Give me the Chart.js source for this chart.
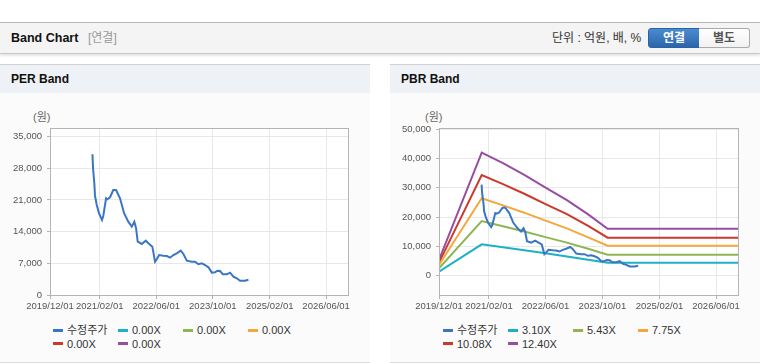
<!DOCTYPE html>
<html>
<head>
<meta charset="utf-8">
<script src="https://cdn.jsdelivr.net/npm/chart.js@4.4.0/dist/chart.umd.min.js"></script>
<style>
  body { margin:0; width:760px; height:364px; position:relative; background:#fff; overflow:hidden;
         font-family:"Liberation Sans","Noto Sans CJK KR",sans-serif; color:#333; }
  #topbar { position:absolute; left:0; top:22px; width:760px; height:30px; background:#f4f4f4;
            border-top:1px solid #b8b8b8; border-bottom:1px solid #c8c8c8; box-shadow:0 2px 2px rgba(0,0,0,0.10); }
  #topbar .title { position:absolute; left:11px; top:0; line-height:30px; font-size:12.5px; font-weight:bold; color:#111; }
  #topbar .sub { position:absolute; left:88px; top:0; line-height:30px; font-size:12px; color:#999; }
  #topbar .unit { position:absolute; left:552px; top:0; line-height:30px; font-size:12px; color:#333; }
  .btn { position:absolute; top:5px; height:18px; width:50px; line-height:18px; text-align:center;
         font-size:12px; font-weight:bold; }
  #b1 { left:648px; background:linear-gradient(#4b8bd0,#2b66ab); color:#fff; border:1px solid #2d62a2; border-radius:3px 0 0 3px; }
  #b2 { left:699px; width:50px; background:linear-gradient(#fff,#f1f1f1); color:#555; border:1px solid #aaa; border-left:none; border-radius:0 3px 3px 0; }
  .panel { position:absolute; top:64px; width:370px; height:298px; background:#fbfbfb; border-bottom:1px solid #dcdcdc; }
  .ph { position:absolute; left:0; top:0; width:370px; height:28px; line-height:29px; background:#eef1f6;
        border-top:1px solid #d2d2d2; font-size:12px; font-weight:bold; color:#111; text-indent:11px; }
  .won { position:absolute; top:47px; font-size:11px; color:#666; line-height:13px; }
  .panel canvas { position:absolute; left:0; top:29px; }
  .lg { position:absolute; font-size:11px; line-height:13px; color:#333; white-space:nowrap; }
  .lg span { display:inline-block; width:10px; height:3px; margin-right:4px; vertical-align:middle; position:relative; top:-1px; }
</style>
</head>
<body>
<div id="topbar">
  <div class="title">Band Chart</div>
  <div class="sub">[연결]</div>
  <div class="unit">단위 : 억원, 배, %</div>
  <div class="btn" id="b1">연결</div>
  <div class="btn" id="b2">별도</div>
</div>

<div class="panel" style="left:0">
  <div class="ph">PER Band</div>
  <div class="won" style="left:33px">(원)</div>
  <canvas id="perChart" width="370" height="227"></canvas>
  <div id="perLegend"></div>
</div>

<div class="panel" style="left:390px">
  <div class="ph">PBR Band</div>
  <div class="won" style="left:35px">(원)</div>
  <canvas id="pbrChart" width="370" height="227"></canvas>
  <div id="pbrLegend"></div>
</div>

<script>
// x axis range and tick labels
var xStart = '2019/12/01';
var xEnd = '2026/12/06';
var xTickLabels = ['2019/12/01', '2021/02/01', '2022/06/01', '2023/10/01', '2025/02/01', '2026/06/01'];

// 수정주가 (adjusted price)
var priceDates = ['2020/11/30','2020/12/05','2020/12/16','2020/12/22','2021/01/06','2021/01/25','2021/02/20','2021/03/03',
  '2021/03/27','2021/04/07','2021/04/30','2021/05/28','2021/06/21','2021/07/25','2021/08/29','2021/10/04','2021/11/03',
  '2021/11/25','2021/12/10','2021/12/24','2022/01/28','2022/03/03','2022/03/26','2022/04/29','2022/05/22','2022/06/06',
  '2022/06/26','2022/08/02','2022/08/31','2022/09/28','2022/10/27','2022/11/25','2022/12/29','2023/01/21','2023/02/19',
  '2023/04/03','2023/05/01','2023/05/30','2023/06/28','2023/07/26','2023/08/24','2023/09/22','2023/10/20','2023/11/09',
  '2023/12/02','2023/12/26','2024/01/29','2024/02/26','2024/03/26','2024/04/24','2024/05/22','2024/07/04','2024/08/02'];
var priceValues = [31100,28000,24700,21900,19900,18060,16580,17470,21380,21160,21600,23200,23200,21380,18060,16200,15100,
  16200,14750,11800,11280,12000,11430,10680,7360,7890,8840,8690,8620,8250,8840,9220,9800,9070,7580,7360,7360,6790,7000,
  6630,6120,4940,5020,5370,5300,4570,4570,4940,4050,3690,3160,3160,3380];

// PBR band lines
var bandDates = ['2019/12/01','2020/12/01','2021/06/01','2021/12/01','2022/06/01','2022/12/01','2023/06/01','2023/11/15','2026/12/06'];
var pbr310 = [1370,10720,9710,8670,7650,6550,5460,4440,4440];
var pbr543 = [2530,18680,16900,15100,13180,11300,9200,7170,7170];
var pbr775 = [3650,26430,24030,21520,18820,16140,13100,10250,10250];
var pbr1008 = [4440,34390,31250,27990,24470,21000,17040,12980,12980];
var pbr1240 = [5360,42010,38450,34430,30110,25830,20950,16000,16000];

var perLabels = ['수정주가', '0.00X', '0.00X', '0.00X', '0.00X', '0.00X'];
var pbrLabels = ['수정주가', '3.10X', '5.43X', '7.75X', '10.08X', '12.40X'];
var colors = ['#3a76c4', '#1cb1c4', '#8fb553', '#f3a73c', '#cc392c', '#974ea2'];

var perYTicks = [0, 7000, 14000, 21000, 28000, 35000];
var pbrYTicks = [0, 10000, 20000, 30000, 40000, 50000];

function toX(s) {
  var p = s.split('/');
  return Date.UTC(+p[0], p[1] - 1, +p[2]);
}
function fmtDate(v) {
  var d = new Date(v);
  var m = d.getUTCMonth() + 1, dd = d.getUTCDate();
  return d.getUTCFullYear() + '/' + (m < 10 ? '0' : '') + m + '/' + (dd < 10 ? '0' : '') + dd;
}
function pts(dates, vals) {
  var out = [];
  for (var i = 0; i < dates.length; i++) out.push({ x: toX(dates[i]), y: vals[i] });
  return out;
}

var plotBox = {
  id: 'plotBox',
  beforeDraw: function (chart) {
    var a = chart.chartArea, ctx = chart.ctx;
    ctx.save();
    ctx.fillStyle = '#fff';
    ctx.fillRect(a.left, a.top, a.right - a.left, a.bottom - a.top);
    ctx.restore();
  },
  afterDraw: function (chart) {
    var a = chart.chartArea, ctx = chart.ctx;
    ctx.save();
    ctx.strokeStyle = '#b4b4b4';
    ctx.lineWidth = 1;
    ctx.strokeRect(Math.round(a.left) + 0.5, Math.round(a.top) + 0.5, Math.round(a.right - a.left), Math.round(a.bottom - a.top));
    ctx.restore();
  }
};

function makeChart(id, legendId, labels, bands, yMin, yMax, yTicks, yWidth) {
  var datasets = [{ label: labels[0], data: pts(priceDates, priceValues) }];
  for (var i = 0; i < bands.length; i++) {
    datasets.push({ label: labels[i + 1], data: bands[i] ? pts(bandDates, bands[i]) : [] });
  }
  // band lines first drawn under the price line
  datasets.forEach(function (d, i) {
    d.borderColor = colors[i];
    d.backgroundColor = colors[i];
    d.borderWidth = 2;
    d.pointRadius = 0;
    d.tension = 0;
    d.order = i === 0 ? 0 : 1;
  });

  var chart = new Chart(document.getElementById(id), {
    type: 'line',
    data: { datasets: datasets },
    plugins: [plotBox],
    options: {
      responsive: false,
      animation: false,
      layout: { padding: { top: 35, right: 22, bottom: 5, left: 0 } },
      plugins: { legend: { display: false }, tooltip: { enabled: false } },
      scales: {
        x: {
          type: 'linear',
          min: toX(xStart),
          max: toX(xEnd),
          afterBuildTicks: function (s) {
            s.ticks = xTickLabels.map(function (t) { return { value: toX(t) }; });
          },
          afterFit: function (s) { s.height = 20; },
          ticks: {
            autoSkip: false, maxRotation: 0, padding: 2, color: '#555',
            font: { family: 'Liberation Sans', size: 9.5 },
            callback: function (v) { return fmtDate(v); }
          },
          grid: { color: '#e8e8e8', tickColor: '#b4b4b4', tickLength: 4 },
          border: { color: '#b4b4b4' }
        },
        y: {
          min: yMin,
          max: yMax,
          afterBuildTicks: function (s) {
            s.ticks = yTicks.map(function (t) { return { value: t }; });
          },
          afterFit: function (s) { s.width = yWidth; },
          ticks: {
            padding: 5, color: '#555',
            font: { family: 'Liberation Sans', size: 9.5 },
            callback: function (v) { return v.toLocaleString('en-US'); }
          },
          grid: { color: '#e8e8e8', tickColor: '#b4b4b4', tickLength: 3 },
          border: { color: '#b4b4b4' }
        }
      }
    }
  });

  // HTML legend, fixed column widths
  var lg = document.getElementById(legendId);
  chart.data.datasets.forEach(function (d, i) {
    var el = document.createElement('div');
    el.className = 'lg';
    el.style.left = (53 + (i % 4) * 65) + 'px';
    el.style.top = (260 + Math.floor(i / 4) * 13.5) + 'px';
    el.innerHTML = '<span style="background:' + d.borderColor + '"></span>' + d.label;
    lg.appendChild(el);
  });
  return chart;
}

makeChart('perChart', 'perLegend', perLabels, [null, null, null, null, null], 0, 36900, perYTicks, 50);
makeChart('pbrChart', 'pbrLegend', pbrLabels, [pbr310, pbr543, pbr775, pbr1008, pbr1240], -6600, 50450, pbrYTicks, 49);
</script>
</body>
</html>
